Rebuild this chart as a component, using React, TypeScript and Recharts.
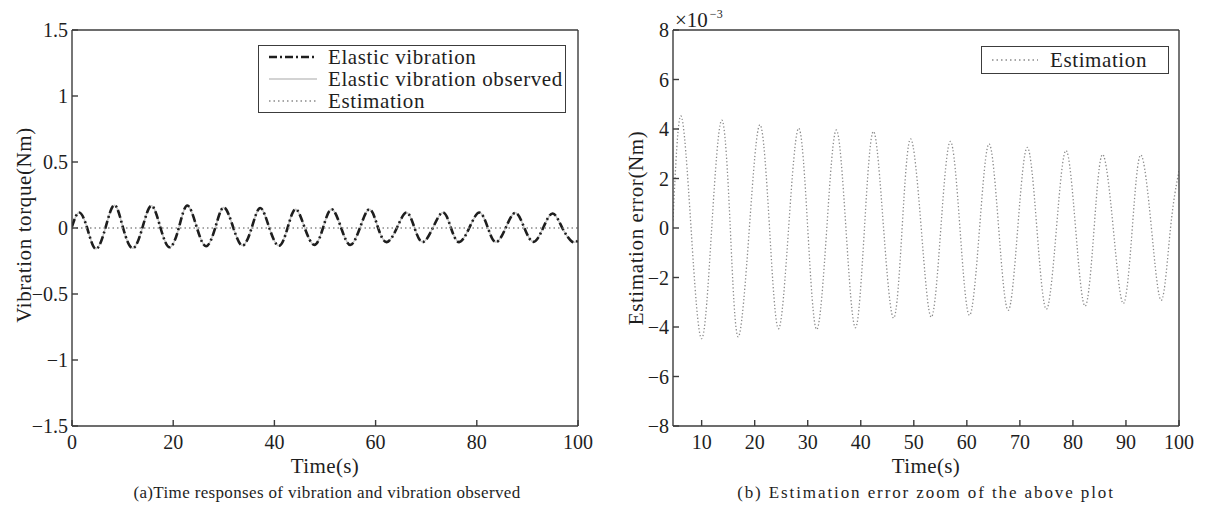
import React from 'react';
import { LineChart, Line, XAxis, YAxis, Legend } from 'recharts';

const FONT = '"Liberation Serif", "Times New Roman", Times, serif';

// ---- Panel (a): time responses ----
const vibTime = [0, 1.4, 3.0, 4.7, 6.6, 8.4, 10.1, 12.0, 13.9, 15.7, 17.5, 19.3, 21.1, 22.8, 24.7, 26.5, 28.3, 30.0, 31.9, 33.7, 35.5, 37.2, 39.0, 40.9, 42.6, 44.2, 46.0, 47.9, 49.6, 51.3, 53.2, 55.0, 56.9, 58.8, 60.5, 62.2, 64.2, 66.1, 67.7, 69.3, 71.3, 73.3, 74.9, 76.5, 78.5, 80.5, 82.2, 83.8, 85.7, 87.6, 89.4, 91.2, 93.1, 95.0, 96.9, 98.8, 100];
const vibValue = [0.01, 0.117, 0, -0.158, 0, 0.173, 0, -0.153, 0, 0.168, 0, -0.146, 0, 0.17, 0, -0.138, 0, 0.155, 0, -0.133, 0, 0.152, 0, -0.135, 0, 0.142, 0, -0.128, 0, 0.142, 0, -0.128, 0, 0.142, 0, -0.107, 0, 0.117, 0, -0.107, 0, 0.117, 0, -0.107, 0, 0.117, 0, -0.107, 0, 0.115, 0, -0.105, 0, 0.11, 0, -0.103, -0.095];
const obsValue = vibValue.slice();
const estTime = [0, 100];
const estValue = [0, 0];
const xTicksA = [0, 20, 40, 60, 80, 100];
const yTicksA = [-1.5, -1, -0.5, 0, 0.5, 1, 1.5];

// ---- Panel (b): estimation error (x 10^-3) ----
const errTime = [4.6, 6.1, 8.0, 10.0, 11.9, 13.8, 15.4, 16.9, 19.0, 21.0, 22.8, 24.5, 26.4, 28.3, 30.0, 31.7, 33.6, 35.4, 37.2, 39.0, 40.7, 42.4, 44.3, 46.2, 47.8, 49.4, 51.4, 53.3, 55.1, 56.9, 58.7, 60.5, 62.4, 64.2, 66.0, 67.8, 69.6, 71.4, 73.2, 75.0, 76.9, 78.7, 80.5, 82.3, 84.0, 85.6, 87.6, 89.5, 91.2, 92.8, 94.8, 96.7, 98.4, 100];
const errValue = [0.3, 4.53, 0, -4.47, 0, 4.36, 0, -4.4, 0, 4.17, 0, -4.07, 0, 4.03, 0, -4.1, 0, 3.96, 0, -4.03, 0, 3.9, 0, -3.64, 0, 3.6, 0, -3.6, 0, 3.5, 0, -3.53, 0, 3.4, 0, -3.33, 0, 3.26, 0, -3.28, 0, 3.13, 0, -3.16, 0, 2.97, 0, -3.05, 0, 2.95, 0, -2.92, 0, 2.3];
const xTicksB = [10, 20, 30, 40, 50, 60, 70, 80, 90, 100];
const yTicksB = [-8, -6, -4, -2, 0, 2, 4, 6, 8];

const zip = (ts: number[], vs: number[]) => ts.map((t, i) => ({ t, v: vs[i] }));
const vibData = zip(vibTime, vibValue);
const obsData = zip(vibTime, obsValue);
const estData = zip(estTime, estValue);
const errData = zip(errTime, errValue);

const fmt = (v: number) => (v < 0 ? '\u2212' + Math.abs(v) : String(v));

const AXIS = '#3c3c3c';
const TXT = '#1e1e1e';
const tickStyle = { fontSize: 20, fill: TXT, fontFamily: FONT };

type Item = { label: string; stroke: string; width: number; dash?: string };

const legendA: Item[] = [
  { label: 'Elastic vibration', stroke: '#1e1e1e', width: 2.6, dash: '8 3 2 3' },
  { label: 'Elastic vibration observed', stroke: '#c4c4c4', width: 1.5 },
  { label: 'Estimation', stroke: '#8a8a8a', width: 1.3, dash: '1.5 3' },
];
const legendB: Item[] = [{ label: 'Estimation', stroke: '#8a8a8a', width: 1.3, dash: '1.5 3' }];

const LegendBox = ({ items, rowH, sampleW, padL, gap }: { items: Item[]; rowH: number; sampleW: number; padL: number; gap: number }) => (
  <div
    style={{
      width: '100%',
      height: '100%',
      boxSizing: 'border-box',
      border: `1.4px solid ${AXIS}`,
      background: '#fff',
      display: 'flex',
      flexDirection: 'column',
      justifyContent: 'center',
      fontFamily: FONT,
      fontSize: 21,
      color: TXT,
    }}
  >
    {items.map((it) => (
      <div key={it.label} style={{ display: 'flex', alignItems: 'center', height: rowH, whiteSpace: 'nowrap', lineHeight: 1 }}>
        <svg width={sampleW} height={10} style={{ marginLeft: padL, marginRight: gap, flex: 'none' }}>
          <line x1={0} y1={5} x2={sampleW} y2={5} stroke={it.stroke} strokeWidth={it.width} strokeDasharray={it.dash} />
        </svg>
        <span style={{ letterSpacing: 0.6 }}>{it.label}</span>
      </div>
    ))}
  </div>
);

const abs = (left: number, top: number): React.CSSProperties => ({ position: 'absolute', left, top });

const Title = ({ x, y, text, size = 21, rotate = false, ls = 0.4 }: { x: number; y: number; text: string; size?: number; rotate?: boolean; ls?: number }) => (
  <div
    style={{
      position: 'absolute',
      left: x,
      top: y,
      transform: `translate(-50%, -50%)${rotate ? ' rotate(-90deg)' : ''}`,
      whiteSpace: 'nowrap',
      fontFamily: FONT,
      fontSize: size,
      color: TXT,
      letterSpacing: ls,
      lineHeight: 1,
    }}
  >
    {text}
  </div>
);

const axisCommon = { stroke: AXIS, strokeWidth: 1.4, interval: 0 as const, allowDataOverflow: true, tickSize: -6 };

export default function App() {
  return (
    <div style={{ position: 'absolute', left: 0, top: 0, width: 1206, height: 511, background: '#fff', overflow: 'hidden' }}>
      {/* Panel (a) */}
      <div style={abs(0, 0)}>
        <LineChart width={600} height={511} margin={{ top: 29, right: 21, bottom: 45, left: 12 }}>
          <XAxis xAxisId="b" type="number" dataKey="t" domain={[0, 100]} ticks={xTicksA} height={40} tickMargin={15} tick={tickStyle} {...axisCommon} />
          <XAxis xAxisId="t" orientation="top" type="number" dataKey="t" domain={[0, 100]} ticks={xTicksA} height={1} tick={false} {...axisCommon} />
          <YAxis yAxisId="l" type="number" domain={[-1.5, 1.5]} ticks={yTicksA} width={60} tickMargin={10} tickFormatter={fmt} tick={tickStyle} {...axisCommon} />
          <YAxis yAxisId="r" orientation="right" type="number" domain={[-1.5, 1.5]} ticks={yTicksA} width={1} tick={false} {...axisCommon} />
          <Line xAxisId="b" yAxisId="l" data={obsData} dataKey="v" name="Elastic vibration observed" type="natural" stroke="#c4c4c4" strokeWidth={1.5} dot={false} activeDot={false} isAnimationActive={false} />
          <Line xAxisId="b" yAxisId="l" data={vibData} dataKey="v" name="Elastic vibration" type="natural" stroke="#1e1e1e" strokeWidth={2.6} strokeDasharray="8 3 2 3" dot={false} activeDot={false} isAnimationActive={false} />
          <Line xAxisId="b" yAxisId="l" data={estData} dataKey="v" name="Estimation" type="linear" stroke="#8a8a8a" strokeWidth={1.3} strokeDasharray="1.5 3" dot={false} activeDot={false} isAnimationActive={false} />
          <Legend
            layout="horizontal"
            verticalAlign="middle"
            align="center"
            content={() => <LegendBox items={legendA} rowH={22} sampleW={48} padL={10} gap={11} />}
            wrapperStyle={{ left: 258, top: 45, width: 308, height: 68, right: 'auto', bottom: 'auto' }}
          />
        </LineChart>
        <Title x={24} y={225} text="Vibration torque(Nm)" size={21} ls={0.6} rotate />
        <Title x={325} y={466} text="Time(s)" />
        <Title x={327} y={492} text="(a)Time responses of vibration and vibration observed" size={17} ls={0.35} />
      </div>

      {/* Panel (b) */}
      <div style={abs(600, 0)}>
        <LineChart width={606} height={511} margin={{ top: 29, right: 26, bottom: 45, left: 13 }}>
          <XAxis xAxisId="b" type="number" dataKey="t" domain={[4.6, 100]} ticks={xTicksB} height={40} tickMargin={15} tick={tickStyle} {...axisCommon} />
          <XAxis xAxisId="t" orientation="top" type="number" dataKey="t" domain={[4.6, 100]} ticks={xTicksB} height={1} tick={false} {...axisCommon} />
          <YAxis yAxisId="l" type="number" domain={[-8, 8]} ticks={yTicksB} width={60} tickMargin={10} tickFormatter={fmt} tick={tickStyle} {...axisCommon} />
          <YAxis yAxisId="r" orientation="right" type="number" domain={[-8, 8]} ticks={yTicksB} width={1} tick={false} {...axisCommon} />
          <Line xAxisId="b" yAxisId="l" data={errData} dataKey="v" name="Estimation" type="natural" stroke="#8a8a8a" strokeWidth={1.3} strokeDasharray="1.3 2.2" dot={false} activeDot={false} isAnimationActive={false} />
          <Legend
            layout="horizontal"
            verticalAlign="middle"
            align="center"
            content={() => <LegendBox items={legendB} rowH={24} sampleW={46} padL={10} gap={12} />}
            wrapperStyle={{ left: 381, top: 46, width: 188, height: 28, right: 'auto', bottom: 'auto' }}
          />
        </LineChart>
        <div style={{ position: 'absolute', left: 75, top: 10, fontFamily: FONT, fontSize: 21, color: TXT, whiteSpace: 'nowrap', lineHeight: 1 }}>
          {'\u00d7'}10
          <span style={{ fontFamily: FONT, fontSize: 12, position: 'relative', top: -9, marginLeft: 2 }}>{'\u2212'}3</span>
        </div>
        <Title x={36} y={228} text="Estimation error(Nm)" size={21} ls={0.6} rotate />
        <Title x={326} y={466} text="Time(s)" />
        <Title x={326} y={492} text="(b) Estimation error zoom of the above plot" size={17} ls={1.9} />
      </div>
    </div>
  );
}
